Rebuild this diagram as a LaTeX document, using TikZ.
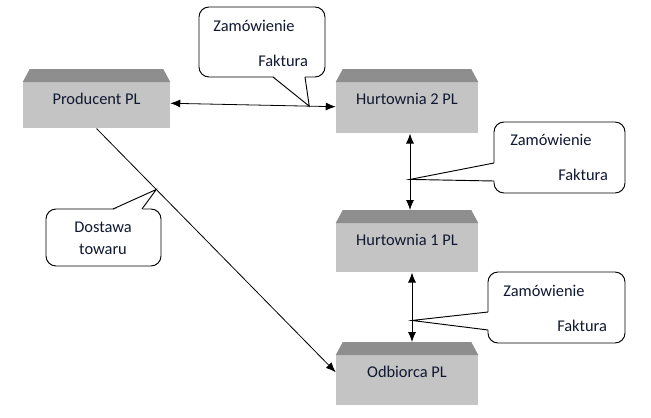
\documentclass[tikz,border=0pt]{standalone}
\usepackage{fontspec}
\setmainfont{Carlito}
\usetikzlibrary{arrows.meta}
\definecolor{PLBody}{HTML}{C4C4C4}
\definecolor{PLTop}{HTML}{8E8E8E}
\definecolor{PLText}{HTML}{101830}

\begin{document}
\begin{tikzpicture}[x=0.75pt,y=-0.75pt,
  font=\fontsize{12.3pt}{14.8pt}\selectfont,
  plbox/.style={rectangle,fill=PLBody,anchor=north,inner sep=0pt,
    minimum width=106.5pt,text height=16.6pt,text depth=20.15pt,text=PLText},
  link/.style={line width=0.6pt,{Latex[length=7.5pt,width=6pt]}-{Latex[length=7.5pt,width=6pt]}},
  bubble/.style={draw,line width=0.7pt,fill=white,rounded corners=7.5pt},
  bubbleline/.style={line width=0.7pt,line join=miter},
  lbl/.style={inner sep=0pt,text=PLText}]
\path[use as bounding box] (0,0) rectangle (651,418);
% boxes
\node[plbox,minimum width=110.25pt,text depth=17.9pt] (prod) at (96.5,82) {Producent PL};
\node[plbox,text depth=21.65pt] (h2) at (407,82) {Hurtownia 2 PL};
\node[plbox] (h1) at (407,223) {Hurtownia 1 PL};
\node[plbox,text depth=20.9pt] (odb) at (407,355) {Odbiorca PL};
\foreach \n in {prod,h2,h1,odb}
  \fill[PLTop] (\n.north west) -- ([shift={(5.25pt,9.75pt)}]\n.north west)
    -- ([shift={(-5.25pt,9.75pt)}]\n.north east) -- (\n.north east) -- cycle;
% connectors
\draw[link] ([yshift=1.5pt]prod.east) -- coordinate[pos=.84] (tipA) ([yshift=0.8pt]h2.west);
\draw[link] ([xshift=2.25pt]h2.south) -- coordinate[pos=.6] (tipB) ([xshift=2.25pt,yshift=9.75pt]h1.north);
\draw[link] ([xshift=3.75pt]h1.south) -- coordinate[pos=.69] (tipC) ([xshift=3.75pt,yshift=9.75pt]odb.north);
\draw[line width=0.6pt,-{Latex[length=7.5pt,width=6pt]}] (prod.south) -- coordinate[pos=.25] (tipD) ([yshift=6pt]odb.west);
% callout: top
\draw[bubble] (199,7) rectangle (325,77);
\fill[white] (273,75.8) -- (305,75.8) -- (tipA) -- cycle;
\draw[bubbleline] (273,77) -- (tipA) -- (305,77);
\node[lbl,anchor=west] (zamA) at (213,26) {Zamówienie};
\node[lbl,anchor=west] (fakA) at (258,61) {Faktura};
% callout: right, upper
\draw[bubble] (494,122) rectangle (625,193);
\fill[white] (495.2,163) -- (495.2,181) -- (tipB) -- cycle;
\draw[bubbleline] (494,163) -- (tipB) -- (494,181);
\node[lbl,anchor=west] (zamB) at (510,140) {Zamówienie};
\node[lbl,anchor=west] (fakB) at (558,175) {Faktura};
% callout: right, lower
\draw[bubble] (488,272) rectangle (625,343);
\fill[white] (489.2,312) -- (489.2,330) -- (tipC) -- cycle;
\draw[bubbleline] (488,312) -- (tipC) -- (488,330);
\node[lbl,anchor=west] (zamC) at (503,291) {Zamówienie};
\node[lbl,anchor=west] (fakC) at (557,326) {Faktura};
% callout: delivery
\draw[bubble] (46,209) rectangle (161,266);
\fill[white] (113,210.2) -- (142,210.2) -- (tipD) -- cycle;
\draw[bubbleline] (113,209) -- (tipD) -- (142,209);
\node[lbl,align=center] (dost) at (103,238) {Dostawa\\[1.7pt]towaru};
\end{tikzpicture}
\end{document}
